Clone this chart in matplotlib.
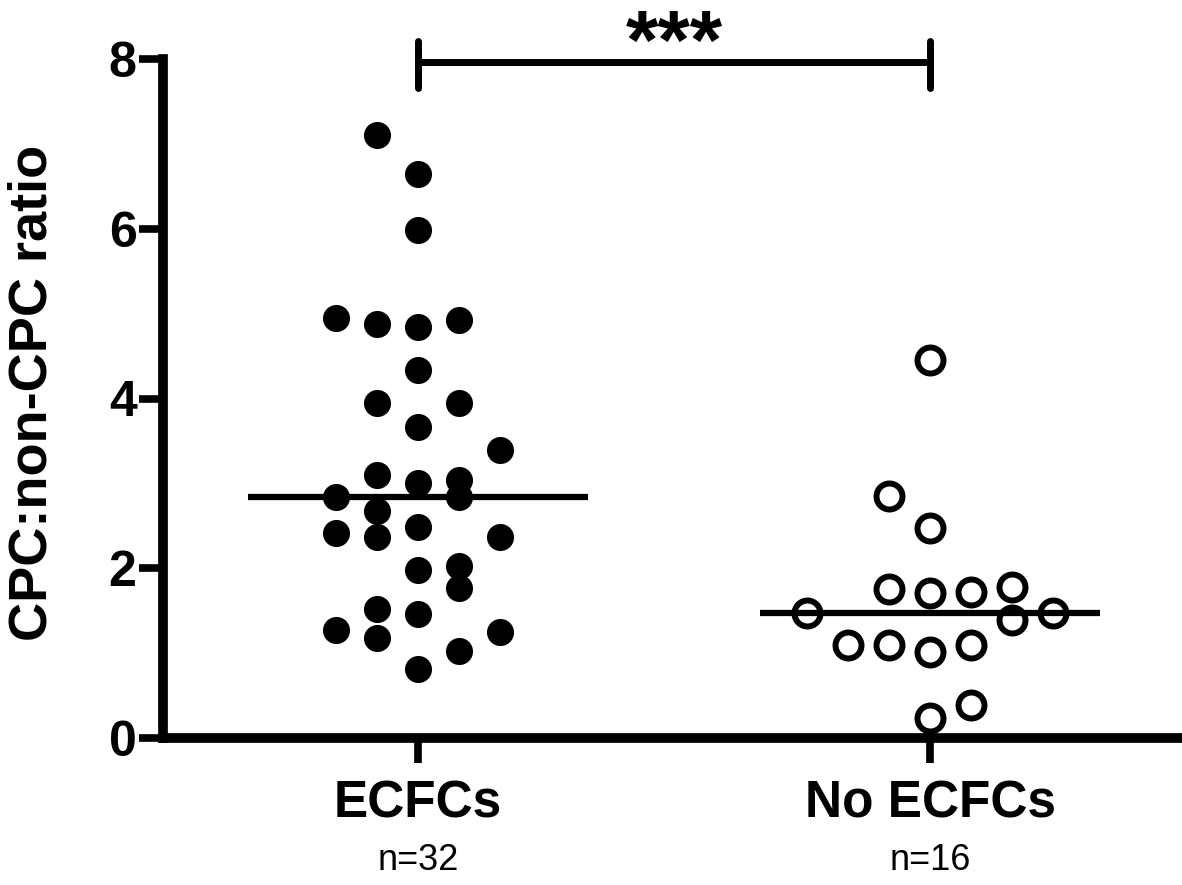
import numpy as np
import matplotlib
matplotlib.use("Agg")
import matplotlib.pyplot as plt
from matplotlib.transforms import blended_transform_factory

plt.rcParams['font.family'] = ['Liberation Sans', 'DejaVu Sans']

# ---- data ----
categories = ["ECFCs", "No ECFCs"]
n_labels = ["n=32", "n=16"]

ecfcs_values = [7.10, 6.65, 5.98, 4.95, 4.88, 4.84, 4.93, 4.33,
                3.95, 3.95, 3.67, 3.39, 3.10, 3.00, 3.04, 2.84,
                2.84, 2.67, 2.49, 2.41, 2.37, 2.37, 1.98, 2.03,
                1.77, 1.52, 1.46, 1.27, 1.18, 1.25, 1.02, 0.81]
# swarm slot (column of the dot cloud) for each value, as in the reference
ecfcs_slot = [-1, 0, 0, -2, -1, 0, 1, 0,
              -1, 1, 0, 2, -1, 0, 1, -2,
              1, -1, 0, -2, -1, 2, 0, 1,
              1, -1, 0, -2, -1, 2, 1, 0]

no_ecfcs_values = [4.45, 2.85, 2.47, 1.76, 1.71, 1.72, 1.78, 1.47,
                   1.39, 1.47, 1.10, 1.10, 1.01, 1.10, 0.39, 0.24]
no_ecfcs_slot = [0, -1, 0, -1, 0, 1, 2, -3,
                 2, 3, -2, -1, 0, 1, 1, 0]

significance = "***"
ylabel = "CPC:non-CPC ratio"
yticks = [0, 2, 4, 6, 8]

# ---- figure ----
W, H, DPI = 1182, 885, 100
fig = plt.figure(figsize=(W / DPI, H / DPI), dpi=DPI)
ax = fig.add_axes([163 / W, 1 - 738 / H, (W - 163) / W, (738 - 59) / H])

slot_w = 0.08
ax.set_xlim(-0.498, 1.492)
ax.set_ylim(0, 8)

xs1 = 0 + slot_w * np.array(ecfcs_slot)
xs2 = 1 + slot_w * np.array(no_ecfcs_slot)
ax.plot(xs1, ecfcs_values, 'o', ms=19.5, mfc='black', mec='black', mew=0,
        ls='none', clip_on=False, zorder=3)
ax.plot(xs2, no_ecfcs_values, 'o', ms=18.7, mfc='white', mec='black', mew=4.3,
        ls='none', clip_on=False, zorder=3)

half = 0.332
for xc, vals in zip([0, 1], [ecfcs_values, no_ecfcs_values]):
    m = np.median(vals)
    ax.plot([xc - half, xc + half], [m, m], color='black', lw=4.5,
            solid_capstyle='butt', zorder=4)

# significance bracket
yb = 7.96
ax.plot([0, 1], [yb, yb], color='black', lw=5, clip_on=False,
        solid_capstyle='butt')
for xc in [0, 1]:
    ax.plot([xc, xc], [yb - 0.3, yb + 0.25], color='black', lw=5,
            clip_on=False, solid_capstyle='round')
trans_s = blended_transform_factory(ax.transData, fig.transFigure)
ax.text(0.5, 1 - 47 / H, significance, transform=trans_s, ha='center',
        va='center', fontsize=60, fontweight='bold', clip_on=False)

# axes styling
for s in ['top', 'right']:
    ax.spines[s].set_visible(False)
for s in ['left', 'bottom']:
    ax.spines[s].set_linewidth(7)
    ax.spines[s].set_capstyle('projecting')
ax.set_yticks(yticks)
ax.set_yticklabels([str(t) for t in yticks], fontsize=36, fontweight='bold')
ax.set_xticks([0, 1])
ax.set_xticklabels(categories, fontsize=37, fontweight='bold')
ax.tick_params(axis='y', length=17, width=5.5, pad=2)
ax.tick_params(axis='x', length=18, width=5.5, pad=12)

trans = blended_transform_factory(ax.transData, fig.transFigure)
for xc, lab in zip([0, 1], n_labels):
    ax.text(xc, 1 - 860 / H, lab, transform=trans, ha='center', va='center',
            fontsize=26)

fig.text(33 / W, 1 - 393 / H, ylabel, rotation=90, ha='center', va='center',
         fontsize=39, fontweight='bold')

fig.savefig("out.png", dpi=DPI)
